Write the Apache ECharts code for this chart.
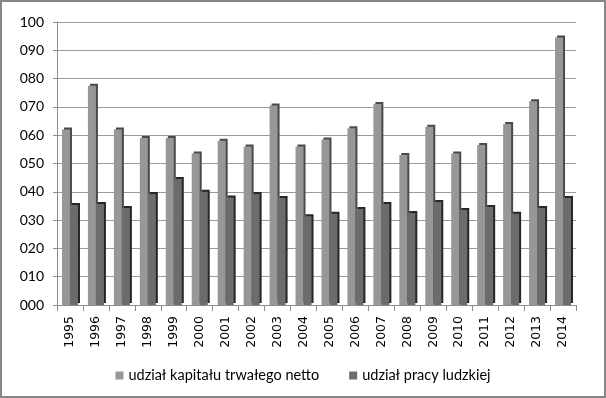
<!DOCTYPE html>
<html>
<head>
<meta charset="utf-8">
<script src="https://cdn.jsdelivr.net/npm/echarts@6/dist/echarts.min.js"></script>
<style>
    html, body { margin: 0; padding: 0; background: #fff; }
    #chart { width: 606px; height: 398px; box-sizing: border-box; border: 2px solid #878787; }
</style>
</head>
<body>
<div id="chart"></div>
<script>
// data
const years = ['1995', '1996', '1997', '1998', '1999', '2000', '2001', '2002', '2003', '2004',
    '2005', '2006', '2007', '2008', '2009', '2010', '2011', '2012', '2013', '2014']
const kapital = [62, 77.5, 62, 59, 59, 53.5, 58, 56, 70.5, 56,
    58.5, 62.5, 71, 53, 63, 53.5, 56.5, 64, 72, 94.5]
const praca = [35.3, 35.7, 34.3, 39.2, 44.5, 40, 38, 39.2, 37.8, 31.4,
    32.2, 33.9, 35.7, 32.5, 36.4, 33.6, 34.6, 32.2, 34.3, 37.8]
const seriesNames = ['udział kapitału trwałego netto', 'udział pracy ludzkiej']

const chart = echarts.init(document.getElementById('chart'), null, { renderer: 'canvas' })

// fake the excel 3d look with a hard shadow on the right side
const barStyle = (front, side) => ({
    color: front,
    shadowColor: side,
    shadowBlur: 0,
    shadowOffsetX: 2,
    shadowOffsetY: -2,
})

chart.setOption({
    animation: false,
    textStyle: { fontFamily: 'DejaVu Sans' },
    grid: { left: 55, right: 28, top: 20, bottom: 91 },
    legend: {
        bottom: 8,
        left: 'center',
        itemWidth: 8,
        itemHeight: 8,
        itemGap: 30,
        icon: 'rect',
        textStyle: { fontFamily: 'Lato', fontSize: 14.5, color: '#000' },
        data: seriesNames,
    },
    xAxis: {
        type: 'category',
        data: years,
        axisLine: { lineStyle: { color: '#8c8c8c' } },
        axisTick: { show: true, length: 6, lineStyle: { color: '#8c8c8c' } },
        axisLabel: { rotate: 90, color: '#000', fontSize: 12.5, margin: 11 },
    },
    yAxis: {
        type: 'value',
        min: 0,
        max: 100,
        interval: 10,
        axisLine: { show: true, lineStyle: { color: '#8c8c8c' } },
        axisTick: { show: true, length: 4, lineStyle: { color: '#8c8c8c' } },
        splitLine: { lineStyle: { color: '#9a9a9a' } },
        axisLabel: {
            color: '#000',
            fontFamily: 'Lato',
            fontSize: 14,
            margin: 13,
            formatter: (v) => String(v).padStart(3, '0'),
        },
    },
    series: [
        {
            name: seriesNames[0],
            type: 'bar',
            data: kapital,
            barWidth: 8,
            barGap: '0%',
            itemStyle: barStyle('#979797', '#4a4a4a'),
        },
        {
            name: seriesNames[1],
            type: 'bar',
            data: praca,
            barWidth: 8,
            itemStyle: barStyle('#6c6c6c', '#262626'),
        },
    ],
})
</script>
</body>
</html>
